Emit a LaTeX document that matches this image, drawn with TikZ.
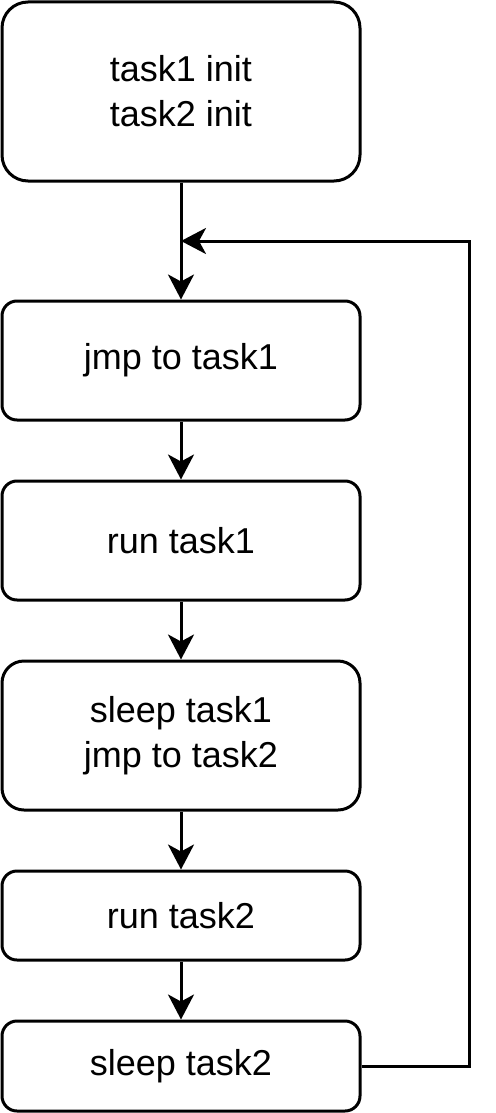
\documentclass[tikz,border=0pt]{standalone}
\usepackage{fontspec}
\setmainfont{Liberation Sans}
\usetikzlibrary{arrows.meta}

\begin{document}
\begin{tikzpicture}[x=1pt,y=-1pt,line width=3pt,
  >={Stealth[length=25pt,width=26pt,inset=7pt]},
  stepbox/.style={draw,rounded corners=15pt,minimum width=358pt,inner sep=0pt,
    align=center,font=\fontsize{36}{45}\selectfont}]
  \useasboundingbox (0,0) rectangle (495,1113);
  \node[stepbox,minimum height=179pt,rounded corners=26pt] (init) at (181,91.5) {task1 init\\task2 init};
  \node[stepbox,minimum height=119pt] (jmp1) at (181,360.5) {jmp to task1};
  \node[stepbox,minimum height=119pt] (run1) at (181,540.5) {run task1};
  \node[stepbox,minimum height=149pt,rounded corners=22pt] (sleep1) at (181,735.5) {sleep task1\\jmp to task2};
  \node[stepbox,minimum height=89pt] (run2) at (181,915.5) {run task2};
  \node[stepbox,minimum height=90pt] (sleep2) at (181,1066) {sleep task2};
  \coordinate (loop) at (181,241);
  \coordinate (turn) at (469,241);
  \draw[->] (init) -- (jmp1);
  \draw[->] (jmp1) -- (run1);
  \draw[->] (run1) -- (sleep1);
  \draw[->] (sleep1) -- (run2);
  \draw[->] (run2) -- (sleep2);
  \draw[->] (sleep2.east) -| (turn) -- (loop);
\end{tikzpicture}
\end{document}
